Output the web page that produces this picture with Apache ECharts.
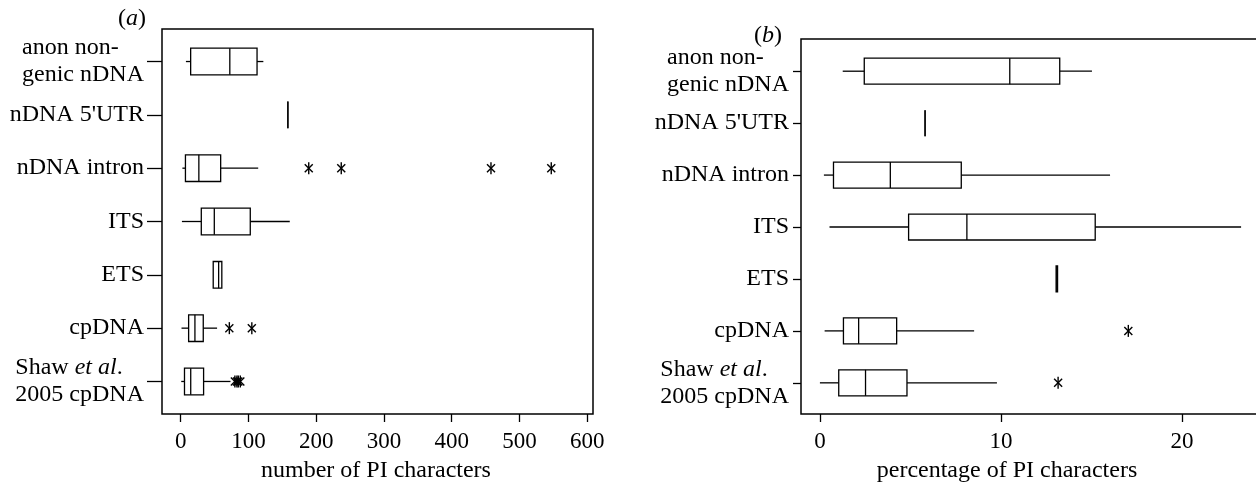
<!DOCTYPE html>
<html>
<head>
<meta charset="utf-8">
<script src="https://cdn.jsdelivr.net/npm/echarts@6.0.0/dist/echarts.min.js"></script>
<style>
  html, body { margin: 0; padding: 0; background: #fff; }
  #main { width: 1256px; height: 486px; }
</style>
</head>
<body>
<div id="main"></div>
<script>
// categories, top to bottom
const categories = ['anon non-\ngenic nDNA', "nDNA 5'UTR", 'nDNA intron', 'ITS', 'ETS', 'cpDNA', 'Shaw et al.\n2005 cpDNA'];
const catTicks = [0, 1, 2, 3, 4, 5, 6];

// (a) number of PI characters
const countMin = [7.7, 158.2, 2.5, 1.8, 48, 1.2, 0.8];
const countQ1 = [14.7, 158.2, 7, 30.4, 48, 11.7, 5.6];
const countMed = [72.5, 158.2, 26.8, 49.6, 56, 21, 14.8];
const countQ3 = [112.7, 158.2, 59, 102.7, 60.7, 33.3, 33.8];
const countMax = [122, 158.2, 114.4, 161, 60.7, 53.7, 73.5];
const countOutliers = [[], [], [189, 237, 458, 547], [], [], [71.8, 105], [80, 83, 85, 88]];
const countTicks = [0, 100, 200, 300, 400, 500, 600];

// (b) percentage of PI characters
const pctMin = [1.26, 5.81, 0.22, 0.53, 13.05, 0.26, 0];
const pctQ1 = [2.45, 5.81, 0.75, 4.9, 13.05, 1.3, 1.04];
const pctMed = [10.49, 5.81, 3.89, 8.12, 13.09, 2.14, 2.52];
const pctQ3 = [13.25, 5.81, 7.81, 15.21, 13.13, 4.24, 4.81];
const pctMax = [15.03, 5.81, 16.03, 23.27, 13.13, 8.52, 9.78];
const pctOutliers = [[], [], [], [], [], [17.04], [13.16]];
const pctTicks = [0, 10, 20];

const FONT = 'Liberation Serif';
const INK = '#000';

const boxRows = (lo, q1, md, q3, hi) => catTicks.map(i => [i, lo[i], q1[i], md[i], q3[i], hi[i]]);
const outlierRows = (list) => {
    const rows = [];
    list.forEach((vals, i) => vals.forEach(v => rows.push([v, i])));
    return rows;
};

const renderBox = (params, api) => {
    const i = api.value(0);
    const lo = api.coord([api.value(1), i]);
    const q1 = api.coord([api.value(2), i]);
    const md = api.coord([api.value(3), i]);
    const q3 = api.coord([api.value(4), i]);
    const hi = api.coord([api.value(5), i]);
    const half = api.size([0, 1])[1] * 0.25;
    const y = md[1];
    const st = {stroke: INK, lineWidth: 1.3, fill: null};
    return {
        type: 'group',
        children: [
            {type: 'line', shape: {x1: lo[0], y1: y, x2: q1[0], y2: y}, style: st},
            {type: 'line', shape: {x1: q3[0], y1: y, x2: hi[0], y2: y}, style: st},
            {type: 'rect', shape: {x: q1[0], y: y - half, width: q3[0] - q1[0], height: 2 * half}, style: st},
            {type: 'line', shape: {x1: md[0], y1: y - half, x2: md[0], y2: y + half}, style: st}
        ]
    };
};

// asterisk-like outlier marker
const renderStar = (params, api) => {
    const p = api.coord([api.value(0), api.value(1)]);
    const st = {stroke: INK, lineWidth: 1.4, fill: null};
    return {
        type: 'group',
        children: [
            {type: 'line', shape: {x1: p[0], y1: p[1] - 6, x2: p[0], y2: p[1] + 6}, style: st},
            {type: 'line', shape: {x1: p[0] - 4, y1: p[1] - 4, x2: p[0] + 4, y2: p[1] + 4}, style: st},
            {type: 'line', shape: {x1: p[0] + 4, y1: p[1] - 4, x2: p[0] - 4, y2: p[1] + 4}, style: st}
        ]
    };
};

const catFormatter = (v) => {
    const name = categories[Math.round(v)] || '';
    return name.split('\n').map(line => '{l|' + line.replace('et al', '}{i|et al}{l|') + '}').join('\n');
};
const catRich = {
    l: {fontFamily: FONT, fontSize: 24, color: INK, align: 'left', lineHeight: 27},
    i: {fontFamily: FONT, fontSize: 24, color: INK, align: 'left', lineHeight: 27, fontStyle: 'italic'}
};

const xAxisOf = (gridIndex, min, max, ticks) => ({
    type: 'value', gridIndex, min, max,
    axisLine: {show: false, onZero: false},
    splitLine: {show: false},
    axisTick: {customValues: ticks, length: 8, lineStyle: {color: INK, width: 1.3}},
    axisLabel: {customValues: ticks, margin: 16, fontFamily: FONT, fontSize: 23, color: INK}
});
const yAxisOf = (gridIndex, min, max, tickLen, margin) => ({
    type: 'value', gridIndex, min, max, inverse: true,
    axisLine: {show: false, onZero: false},
    splitLine: {show: false},
    axisTick: {customValues: catTicks, length: tickLen, lineStyle: {color: INK, width: 1.3}},
    axisLabel: {customValues: catTicks, margin, formatter: catFormatter, rich: catRich, fontFamily: FONT, fontSize: 24, color: INK}
});

const gridStyle = {show: true, borderColor: INK, borderWidth: 1.5, backgroundColor: 'transparent', containLabel: false, outerBoundsMode: 'none'};

const chart = echarts.init(document.getElementById('main'));
chart.setOption({
    animation: false,
    backgroundColor: '#fff',
    grid: [
        Object.assign({left: 162, top: 29, width: 431, height: 385}, gridStyle),
        Object.assign({left: 801, top: 39, width: 500, height: 375}, gridStyle)
    ],
    xAxis: [
        xAxisOf(0, -27.6, 608.6, countTicks),
        xAxisOf(1, -1.045, 26.58, pctTicks)
    ],
    yAxis: [
        yAxisOf(0, -0.61, 6.61, 15, 18),
        yAxisOf(1, -0.62, 6.6, 8, 12)
    ],
    series: [
        {
            type: 'custom', xAxisIndex: 0, yAxisIndex: 0,
            dimensions: ['cat', 'min', 'q1', 'med', 'q3', 'max'],
            encode: {x: [1, 2, 3, 4, 5], y: 0},
            data: boxRows(countMin, countQ1, countMed, countQ3, countMax),
            renderItem: renderBox
        },
        {
            type: 'custom', xAxisIndex: 0, yAxisIndex: 0,
            encode: {x: 0, y: 1},
            data: outlierRows(countOutliers),
            renderItem: renderStar
        },
        {
            type: 'custom', xAxisIndex: 1, yAxisIndex: 1,
            dimensions: ['cat', 'min', 'q1', 'med', 'q3', 'max'],
            encode: {x: [1, 2, 3, 4, 5], y: 0},
            data: boxRows(pctMin, pctQ1, pctMed, pctQ3, pctMax),
            renderItem: renderBox
        },
        {
            type: 'custom', xAxisIndex: 1, yAxisIndex: 1,
            encode: {x: 0, y: 1},
            data: outlierRows(pctOutliers),
            renderItem: renderStar
        }
    ],
    graphic: [
        {type: 'text', x: 132, y: 19, style: {text: '({i|a})', fontFamily: FONT, fontSize: 24, fill: INK, align: 'center', verticalAlign: 'middle',
            rich: {i: {fontFamily: FONT, fontSize: 24, fontStyle: 'italic', color: INK}}}},
        {type: 'text', x: 768, y: 36, style: {text: '({i|b})', fontFamily: FONT, fontSize: 24, fill: INK, align: 'center', verticalAlign: 'middle',
            rich: {i: {fontFamily: FONT, fontSize: 24, fontStyle: 'italic', color: INK}}}},
        {type: 'text', x: 376, y: 471, style: {text: 'number of PI characters', fontFamily: FONT, fontSize: 24, fill: INK, align: 'center', verticalAlign: 'middle'}},
        {type: 'text', x: 1007, y: 471, style: {text: 'percentage of PI characters', fontFamily: FONT, fontSize: 24, fill: INK, align: 'center', verticalAlign: 'middle'}}
    ]
});
</script>
</body>
</html>
